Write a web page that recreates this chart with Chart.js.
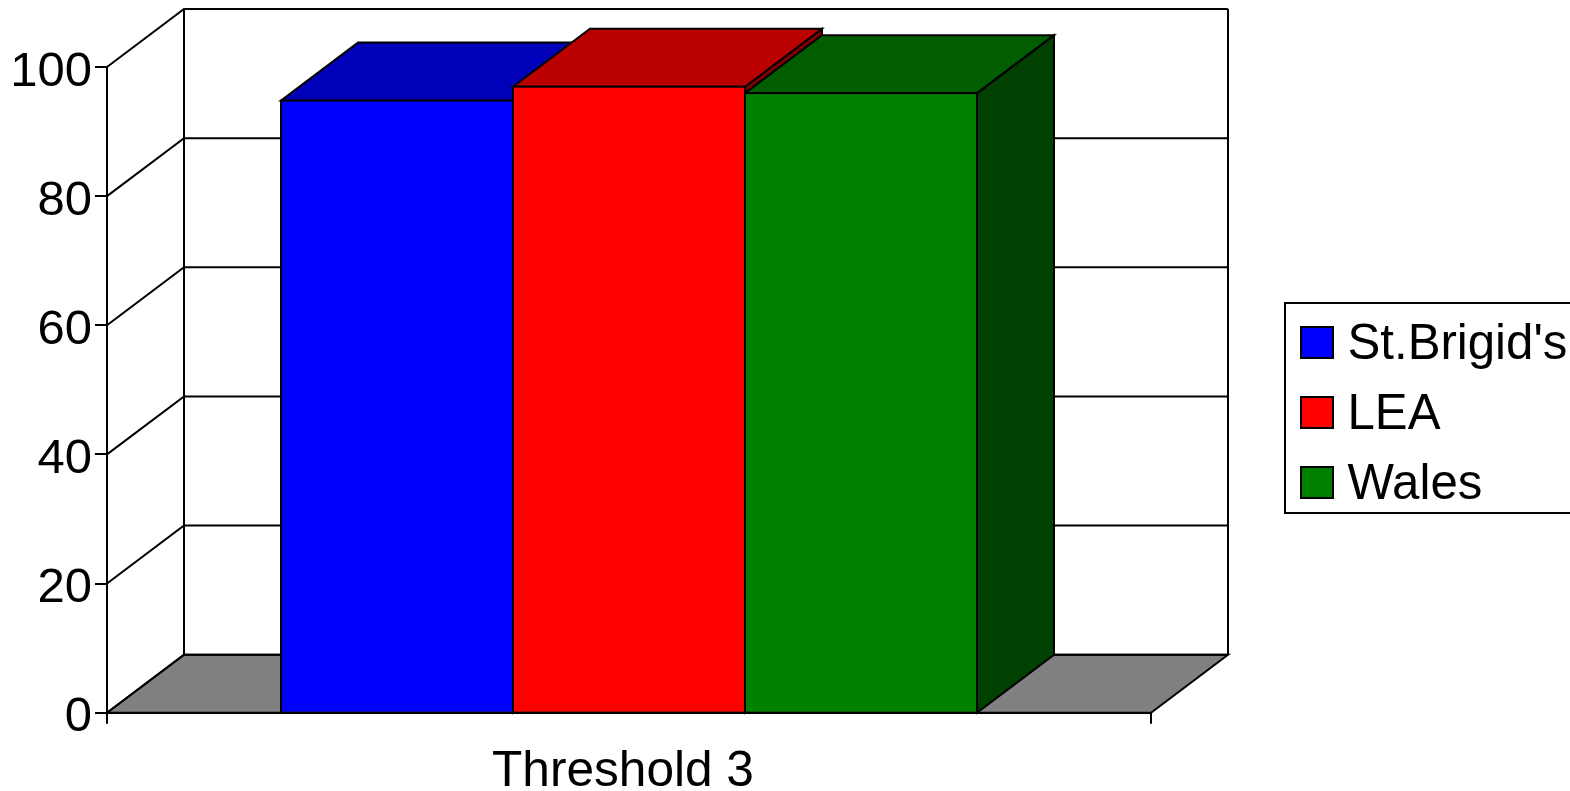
<!DOCTYPE html>
<html>
<head>
<meta charset="utf-8">
<style>
  html, body { margin: 0; padding: 0; background: #fff; overflow: hidden; }
  canvas { display: block; }
</style>
<script src="https://cdn.jsdelivr.net/npm/chart.js@4"></script>
</head>
<body>
<canvas id="chart" width="1570" height="791"></canvas>
<script>
const categories = ["Threshold 3"];
const seriesNames = ["St.Brigid's", "LEA", "Wales"];
const stBrigids = [94.8];
const lea = [96.95];
const wales = [95.95];
const yTicks = [0, 20, 40, 60, 80, 100];

const frontColors = ["#0000ff", "#ff0000", "#008000"];
const topColors = ["#0000bb", "#bb0000", "#005e00"];
const sideColors = ["#000080", "#800000", "#004000"];

// how far the back wall is shifted from the front plane
const depthX = 77;
const depthY = -58;
const fontName = "'Liberation Sans', Arial, sans-serif";

function poly(ctx, pts, fill) {
    ctx.beginPath();
    pts.forEach((p, i) => i ? ctx.lineTo(p[0], p[1]) : ctx.moveTo(p[0], p[1]));
    ctx.closePath();
    if (fill) {
        ctx.fillStyle = fill;
        ctx.fill();
    }
    ctx.stroke();
}

const box3d = {
    id: "box3d",
    beforeDatasetsDraw(chart) {
        const ctx = chart.ctx;
        const y = chart.scales.y;
        const a = chart.chartArea;
        ctx.save();
        ctx.strokeStyle = "#000";
        ctx.lineWidth = 2;

        // floor
        const y0 = y.getPixelForValue(0);
        poly(ctx, [[a.left, y0], [a.left + depthX, y0 + depthY], [a.right + depthX, y0 + depthY], [a.right, y0]], "#808080");

        // walls and grid
        yTicks.forEach(t => {
            const py = y.getPixelForValue(t);
            ctx.beginPath();
            ctx.moveTo(a.left, py);
            ctx.lineTo(a.left + depthX, py + depthY);
            ctx.lineTo(a.right + depthX, py + depthY);
            ctx.stroke();
        });
        const yTop = y.getPixelForValue(100) + depthY;
        ctx.beginPath();
        ctx.moveTo(a.left + depthX, yTop);
        ctx.lineTo(a.left + depthX, y0 + depthY);
        ctx.moveTo(a.right + depthX, yTop);
        ctx.lineTo(a.right + depthX, y0 + depthY);
        ctx.stroke();

        // side and top of each bar, left to right, the front faces come after
        chart.data.datasets.forEach((ds, i) => {
            const bar = chart.getDatasetMeta(i).data[0];
            const l = bar.x - bar.width / 2;
            const r = bar.x + bar.width / 2;
            poly(ctx, [[r, bar.y], [r + depthX, bar.y + depthY], [r + depthX, y0 + depthY], [r, y0]], sideColors[i]);
            poly(ctx, [[l, bar.y], [l + depthX, bar.y + depthY], [r + depthX, bar.y + depthY], [r, bar.y]], topColors[i]);
        });
        ctx.restore();
    },
    afterDatasetsDraw(chart) {
        // outlines of the front faces, centred on the bar edges
        const ctx = chart.ctx;
        const y0 = chart.scales.y.getPixelForValue(0);
        ctx.save();
        ctx.strokeStyle = "#000";
        ctx.lineWidth = 2;
        chart.data.datasets.forEach((ds, i) => {
            const bar = chart.getDatasetMeta(i).data[0];
            ctx.strokeRect(bar.x - bar.width / 2, bar.y, bar.width, y0 - bar.y);
        });
        ctx.restore();
    },
    afterDraw(chart) {
        const ctx = chart.ctx;
        ctx.save();
        ctx.strokeStyle = "#000";
        ctx.lineWidth = 2;
        // legend box runs off the right edge like the original
        ctx.fillStyle = "#fff";
        ctx.fillRect(1285, 303, 300, 210);
        ctx.strokeRect(1285, 303, 300, 210);
        ctx.font = "49.2px " + fontName;
        ctx.textBaseline = "alphabetic";
        chart.data.datasets.forEach((ds, i) => {
            const top = 327 + i * 70;
            ctx.fillStyle = ds.backgroundColor;
            ctx.fillRect(1301, top, 32, 31);
            ctx.strokeRect(1301, top, 32, 31);
            ctx.fillStyle = "#000";
            ctx.fillText(ds.label, 1347.5, top + 32);
        });
        ctx.restore();
    }
};

new Chart(document.getElementById("chart"), {
    type: "bar",
    data: {
        labels: categories,
        datasets: [stBrigids, lea, wales].map((values, i) => ({
            label: seriesNames[i],
            data: values,
            backgroundColor: frontColors[i],
            borderWidth: 0,
            categoryPercentage: 2 / 3,
            barPercentage: 1
        }))
    },
    options: {
        responsive: false,
        animation: false,
        layout: { padding: { left: 0, right: 419, top: 67, bottom: 0 } },
        plugins: {
            legend: { display: false },
            tooltip: { enabled: false }
        },
        scales: {
            x: {
                afterFit: s => { s.height = 78.3; },
                border: { display: true, color: "#000", width: 2 },
                grid: { drawOnChartArea: false, color: "#000", lineWidth: 2, tickLength: 11 },
                ticks: {
                    color: "#000",
                    font: { family: fontName, size: 49.6 },
                    padding: 19,
                    labelOffset: -6,
                    maxRotation: 0
                }
            },
            y: {
                min: 0,
                max: 100,
                afterFit: s => { s.width = 107; },
                afterBuildTicks: s => { s.ticks = yTicks.map(v => ({ value: v })); },
                border: { display: true, color: "#000", width: 2 },
                grid: { drawOnChartArea: false, color: "#000", lineWidth: 2, tickLength: 12 },
                ticks: {
                    color: "#000",
                    font: { family: fontName, size: 49 },
                    padding: 3,
                    labelOffset: 5
                }
            }
        }
    },
    plugins: [box3d]
});
</script>
</body>
</html>
